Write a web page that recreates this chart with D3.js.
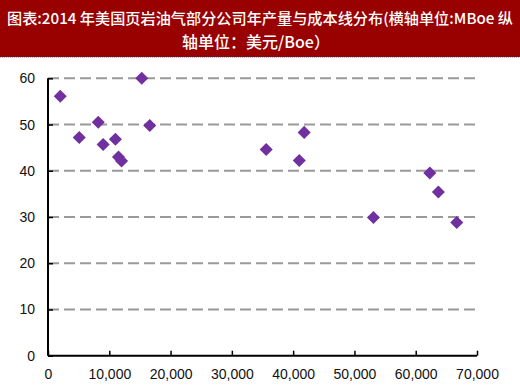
<!DOCTYPE html>
<html><head><meta charset="utf-8">
<script src="https://cdn.jsdelivr.net/npm/d3@7"></script>
<style>body{margin:0;background:#fff}svg{display:block}</style>
</head><body>
<script>
const titleLines = ["图表:2014 年美国页岩油气部分公司年产量与成本线分布(横轴单位:MBoe 纵", "轴单位：美元/Boe）"];
const production = [2000, 5100, 8200, 9000, 11000, 11500, 12000, 15300, 16600, 35600, 41800, 41000, 53100, 62300, 63700, 66700];
const cost = [56.1, 47.2, 50.5, 45.7, 46.8, 43.0, 42.1, 60.0, 49.8, 44.6, 48.3, 42.2, 29.9, 39.5, 35.4, 28.8];
const xTicks = [0, 10000, 20000, 30000, 40000, 50000, 60000, 70000];
const yTicks = [0, 10, 20, 30, 40, 50, 60];

const W = 520, H = 390;
const svg = d3.select("body").append("svg").attr("width", W).attr("height", H);

svg.append("rect").attr("x",0).attr("y",0).attr("width",W).attr("height",57).attr("fill","#990000");
svg.append("line").attr("x1",0).attr("x2",W).attr("y1",57.5).attr("y2",57.5)
  .attr("stroke","#9bb3e0").attr("stroke-width",1).attr("stroke-dasharray","1,1");

svg.append("text").attr("x",7).attr("y",24).attr("fill","#fff")
  .attr("font-family","'Noto Sans CJK SC'").attr("font-size",15).attr("font-weight",500)
  .attr("textLength",506).attr("lengthAdjust","spacingAndGlyphs").text(titleLines[0]);
svg.append("text").attr("x",256).attr("y",48).attr("fill","#fff").attr("text-anchor","middle")
  .attr("font-family","'Noto Sans CJK SC'").attr("font-size",16).attr("font-weight",500).text(titleLines[1]);

const x = d3.scaleLinear().domain([0,70000]).range([48,477]);
const y = d3.scaleLinear().domain([0,60]).range([355.7,78.3]);

svg.append("g").selectAll("line").data(yTicks.filter(d=>d>0)).join("line")
  .attr("x1",x(0)).attr("x2",x(70000)).attr("y1",d=>y(d)).attr("y2",d=>y(d))
  .attr("stroke","#999").attr("stroke-width",2).attr("stroke-dasharray","11,5");

const xAxis = svg.append("g").attr("transform",`translate(0,${y(0)})`)
  .call(d3.axisBottom(x).tickValues(xTicks).tickFormat(d3.format(",")).tickSizeInner(-5).tickSizeOuter(0).tickPadding(13));
const yAxis = svg.append("g").attr("transform",`translate(${x(0)},0)`)
  .call(d3.axisLeft(y).tickValues(yTicks).tickSizeInner(-5).tickSizeOuter(0).tickPadding(13));
[xAxis,yAxis].forEach(a=>{
  a.select(".domain").attr("stroke","#000").attr("stroke-width",2);
  a.selectAll(".tick line").attr("stroke","#000").attr("stroke-width",1.5);
  a.selectAll("text").attr("font-family","'Liberation Sans', Arial").attr("font-size",14).attr("fill","#111");
});
xAxis.select(".domain").attr("d",`M${x(0)},0H${x(70000)}`);
yAxis.select(".domain").attr("d",`M0,${y(0)}V${y(60)}`);

const sym = d3.symbol().type(d3.symbolSquare).size(85);
svg.append("g").selectAll("path").data(production.map((p,i)=>[p,cost[i]])).join("path")
  .attr("transform",d=>`translate(${x(d[0])},${y(d[1])}) rotate(45)`)
  .attr("d",sym).attr("fill","#7030A0");
</script>
</body></html>
